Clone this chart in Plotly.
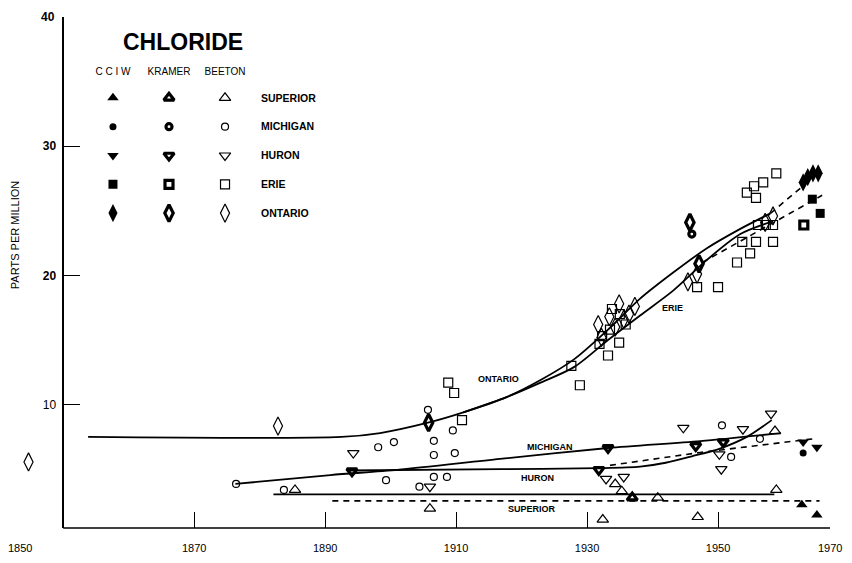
import plotly.graph_objects as go

# ---------------- data (year, parts per million) ----------------
sources = ["CCIW", "KRAMER", "BEETON"]
source_labels = ["C C I W", "KRAMER", "BEETON"]
lakes = ["SUPERIOR", "MICHIGAN", "HURON", "ERIE", "ONTARIO"]

superior_cciw_year = [1962.8, 1965.1]
superior_cciw_ppm = [2.25, 1.45]
superior_kramer_year = [1936.9]
superior_kramer_ppm = [2.8]
superior_beeton_year = [1885.4, 1906.0, 1932.4, 1934.3, 1935.3, 1940.8, 1946.9, 1958.7, 1958.9]
superior_beeton_ppm = [3.4, 1.95, 1.1, 3.85, 3.3, 2.8, 1.3, 7.95, 3.4]

michigan_cciw_year = [1963.0]
michigan_cciw_ppm = [6.25]
michigan_kramer_year = [1946.0]
michigan_kramer_ppm = [23.2]
michigan_beeton_year = [1876.4, 1883.7, 1898.1, 1900.5, 1905.7, 1906.6, 1906.6, 1909.5, 1909.8,
                        1899.3, 1904.4, 1906.6, 1908.6, 1950.6, 1956.4, 1952.0]
michigan_beeton_ppm = [3.86, 3.4, 6.7, 7.1, 9.6, 7.2, 6.1, 8.0, 6.25,
                       4.15, 3.65, 4.4, 4.4, 8.4, 7.35, 5.95]

huron_cciw_year = [1963.0, 1965.1]
huron_cciw_ppm = [7.1, 6.7]
huron_kramer_year = [1894.1, 1931.8, 1933.2, 1946.6, 1950.8]
huron_kramer_ppm = [4.85, 4.95, 6.65, 6.8, 7.1]
huron_beeton_year = [1894.3, 1906.0, 1932.9, 1935.6, 1944.7, 1950.2, 1950.5, 1953.8, 1958.1]
huron_beeton_ppm = [6.25, 3.65, 4.25, 4.4, 8.2, 6.15, 5.0, 8.1, 9.3]

erie_cciw_year = [1964.4, 1965.6]
erie_cciw_ppm = [25.9, 24.8]
erie_kramer_year = [1963.1]
erie_kramer_ppm = [23.9]
erie_beeton_year = [1908.8, 1909.7, 1910.9, 1927.6, 1928.9, 1933.2, 1934.9,
                    1931.9, 1932.3, 1933.5, 1933.8, 1935.0, 1935.9,
                    1946.8, 1950.0, 1952.9, 1953.7, 1954.9, 1955.8, 1958.4,
                    1954.4, 1955.5, 1955.8, 1956.9, 1958.9, 1956.1, 1957.3, 1958.4]
erie_beeton_ppm = [11.7, 10.9, 8.8, 13.0, 11.5, 13.8, 14.8,
                   14.7, 15.3, 15.8, 17.4, 17.0, 16.2,
                   19.1, 19.1, 21.0, 22.6, 21.7, 22.6, 22.6,
                   26.4, 26.9, 26.0, 27.2, 27.9, 23.9, 23.9, 23.9]

ontario_cciw_year = [1963.0, 1963.7, 1964.5, 1965.3]
ontario_cciw_ppm = [27.2, 27.6, 27.9, 27.9]
ontario_kramer_year = [1905.8, 1945.7, 1947.1]
ontario_kramer_ppm = [8.6, 24.1, 20.9]
ontario_beeton_year = [1844.7, 1882.8, 1931.7, 1932.2, 1933.4, 1934.3, 1934.9, 1935.6,
                       1936.4, 1937.3, 1945.4, 1946.8, 1957.2, 1958.4]
ontario_beeton_ppm = [5.56, 8.34, 16.2, 15.2, 16.8, 16.0, 17.8, 16.6,
                      17.0, 17.6, 19.5, 20.1, 24.1, 24.6]

# fitted trend lines
ontario_fit_year = [1853.8, 1892.5, 1898.4, 1905.7, 1911.1, 1917.8, 1922.9, 1928.0,
                    1933.2, 1938.1, 1943.1, 1948.3, 1953.4, 1958.0]
ontario_fit_ppm = [7.5, 7.5, 7.8, 8.6, 9.4, 10.6, 11.9, 13.5, 15.8, 18.2, 20.2, 22.1, 23.6, 24.8]
ontario_dash_year = [1958.0, 1965.5]
ontario_dash_ppm = [24.8, 28.0]

erie_fit_year = [1911.1, 1917.8, 1922.9, 1928.0, 1933.2, 1938.1, 1943.1, 1948.3, 1953.4, 1958.4]
erie_fit_ppm = [9.4, 10.6, 11.7, 12.9, 15.0, 16.9, 18.8, 21.2, 23.2, 24.2]
erie_dash_year = [1947.6, 1965.9]
erie_dash_ppm = [21.0, 26.2]

michigan_fit_year = [1876.3, 1890.8, 1901.0, 1916.7, 1933.2, 1947.3, 1959.6]
michigan_fit_ppm = [3.86, 4.55, 4.95, 5.8, 6.64, 7.18, 7.8]

huron_fit_year = [1893.5, 1916.7, 1931.7, 1938.1, 1942.0, 1946.0, 1950.3, 1954.4, 1958.2]
huron_fit_ppm = [4.9, 5.0, 5.08, 5.2, 5.5, 6.0, 6.6, 7.5, 8.8]
huron_dash_year = [1933.5, 1940.0, 1947.3, 1964.5]
huron_dash_ppm = [5.3, 5.75, 6.3, 7.35]

superior_fit_year = [1882.1, 1958.6]
superior_fit_ppm = [3.05, 3.05]
superior_dash_year = [1891.1, 1965.5]
superior_dash_ppm = [2.55, 2.55]

line_labels = ["ONTARIO", "ERIE", "MICHIGAN", "HURON", "SUPERIOR"]
line_label_year = [1916.4, 1943.1, 1924.4, 1922.5, 1921.6]
line_label_ppm = [12.0, 17.5, 6.7, 4.3, 1.9]

x_ticks = [1870, 1890, 1910, 1930, 1950]
y_ticks = [10, 20, 30]

# axis extents
X_MIN, X_MAX = 1843.4, 1967.1
AXIS_YEAR = 1850
Y_MIN, Y_MAX = 0.45, 40

# ---------------- styles ----------------
FONT = "Liberation Sans, Arial, DejaVu Sans, sans-serif"
symbols = {"SUPERIOR": "triangle-up", "MICHIGAN": "circle", "HURON": "triangle-down",
           "ERIE": "square", "ONTARIO": "diamond-tall"}
sizes = {"SUPERIOR": 10, "MICHIGAN": 7, "HURON": 10, "ERIE": 9, "ONTARIO": 13}


def marker_style(lake, source):
    sym = symbols[lake]
    if source == "CCIW":
        return dict(symbol=sym, size=sizes[lake], color="black", line=dict(width=0, color="black"))
    if source == "KRAMER":
        return dict(symbol=sym + "-open", size=sizes[lake] - 1, color="black", line=dict(width=3.2, color="black"))
    return dict(symbol=sym + "-open", size=sizes[lake], color="black", line=dict(width=1.2, color="black"))


points = {
    ("SUPERIOR", "CCIW"): (superior_cciw_year, superior_cciw_ppm),
    ("SUPERIOR", "KRAMER"): (superior_kramer_year, superior_kramer_ppm),
    ("SUPERIOR", "BEETON"): (superior_beeton_year, superior_beeton_ppm),
    ("MICHIGAN", "CCIW"): (michigan_cciw_year, michigan_cciw_ppm),
    ("MICHIGAN", "KRAMER"): (michigan_kramer_year, michigan_kramer_ppm),
    ("MICHIGAN", "BEETON"): (michigan_beeton_year, michigan_beeton_ppm),
    ("HURON", "CCIW"): (huron_cciw_year, huron_cciw_ppm),
    ("HURON", "KRAMER"): (huron_kramer_year, huron_kramer_ppm),
    ("HURON", "BEETON"): (huron_beeton_year, huron_beeton_ppm),
    ("ERIE", "CCIW"): (erie_cciw_year, erie_cciw_ppm),
    ("ERIE", "KRAMER"): (erie_kramer_year, erie_kramer_ppm),
    ("ERIE", "BEETON"): (erie_beeton_year, erie_beeton_ppm),
    ("ONTARIO", "CCIW"): (ontario_cciw_year, ontario_cciw_ppm),
    ("ONTARIO", "KRAMER"): (ontario_kramer_year, ontario_kramer_ppm),
    ("ONTARIO", "BEETON"): (ontario_beeton_year, ontario_beeton_ppm),
}

fig = go.Figure()

# trend lines
solid_lines = [(ontario_fit_year, ontario_fit_ppm), (erie_fit_year, erie_fit_ppm),
               (michigan_fit_year, michigan_fit_ppm), (huron_fit_year, huron_fit_ppm),
               (superior_fit_year, superior_fit_ppm)]
dashed_lines = [(ontario_dash_year, ontario_dash_ppm), (erie_dash_year, erie_dash_ppm),
                (huron_dash_year, huron_dash_ppm), (superior_dash_year, superior_dash_ppm)]
for xs, ys in solid_lines:
    fig.add_trace(go.Scatter(x=xs, y=ys, mode="lines", line=dict(color="black", width=1.8, shape="spline", smoothing=0.8),
                             showlegend=False, hoverinfo="skip"))
for xs, ys in dashed_lines:
    fig.add_trace(go.Scatter(x=xs, y=ys, mode="lines", line=dict(color="black", width=1.6, dash="6px,5px"),
                             showlegend=False, hoverinfo="skip"))

# data points (Beeton first so filled ones sit on top)
for source in ["BEETON", "KRAMER", "CCIW"]:
    for lake in lakes:
        xs, ys = points[(lake, source)]
        fig.add_trace(go.Scatter(x=xs, y=ys, mode="markers", marker=marker_style(lake, source),
                                 name=f"{lake} {source}", showlegend=False, cliponaxis=False))

# key grid (source columns x lake rows) on helper axes
for si, source in enumerate(sources):
    for li, lake in enumerate(lakes):
        fig.add_trace(go.Scatter(x=[si], y=[li], xaxis="x2", yaxis="y2", mode="markers",
                                 marker=marker_style(lake, source), showlegend=False, hoverinfo="skip"))

annotations = []
for txt, xv, yv in zip(line_labels, line_label_year, line_label_ppm):
    annotations.append(dict(x=xv, y=yv, xref="x", yref="y", text=f"<b>{txt}</b>", showarrow=False,
                            xanchor="center", yanchor="middle",
                            font=dict(family=FONT, size=9, color="black")))

annotations += [
    dict(x=0.2012, y=0.951, xref="paper", yref="paper", text="<b>CHLORIDE</b>", showarrow=False,
         xanchor="center", yanchor="middle", font=dict(family=FONT, size=23, color="black")),
    dict(x=-0.0062, y=0.573, xref="paper", yref="paper", text="PARTS PER MILLION", textangle=-90,
         xanchor="center", yanchor="middle", showarrow=False, font=dict(family=FONT, size=11, color="black")),
    dict(x=AXIS_YEAR, y=Y_MAX, xref="x", yref="y", text="<b>40</b>", showarrow=False, xanchor="right",
         yanchor="middle", xshift=-6, font=dict(family=FONT, size=12, color="black")),
    dict(x=0.0, y=0, xref="paper", yref="paper", text="1850", showarrow=False, xanchor="center",
         yanchor="top", yshift=-12, font=dict(family=FONT, size=11, color="black")),
    dict(x=1.0, y=0, xref="paper", yref="paper", text="1970", showarrow=False, xanchor="center",
         yanchor="top", yshift=-12, font=dict(family=FONT, size=11, color="black")),
]

# x axis baseline runs from the y axis (1850) to the right end
shapes = [dict(type="line", xref="x", yref="paper", x0=AXIS_YEAR, x1=X_MAX, y0=0, y1=0,
               line=dict(color="black", width=1.5))]

fig.update_layout(
    width=844, height=555,
    margin=dict(l=12, r=22, t=9, b=35),
    paper_bgcolor="white", plot_bgcolor="white",
    font=dict(family=FONT, color="black"),
    showlegend=False,
    xaxis=dict(range=[X_MIN, X_MAX], showline=False,
               ticks="inside", ticklen=16, tickwidth=1.2, tickcolor="black",
               tickvals=x_ticks, ticktext=[str(t) for t in x_ticks], ticklabelstandoff=12,
               tickfont=dict(family=FONT, size=11, color="black"),
               showgrid=False, zeroline=False),
    yaxis=dict(range=[Y_MIN, Y_MAX], showline=True, linecolor="black", linewidth=1.5,
               anchor="free", position=(AXIS_YEAR - X_MIN) / (X_MAX - X_MIN),
               ticks="inside", ticklen=16, tickwidth=1.2, tickcolor="black",
               tickvals=y_ticks, ticktext=["10", "<b>20</b>", "<b>30</b>"], ticklabelstandoff=4,
               tickfont=dict(family=FONT, size=12, color="black"),
               showgrid=False, zeroline=False),
    xaxis2=dict(domain=[0.0802, 0.2877], anchor="y2", side="top", range=[-0.5, 2.5],
                tickvals=[0, 1, 2], ticktext=source_labels, ticks="", showline=False,
                ticklabelstandoff=5,
                showgrid=False, zeroline=False, tickfont=dict(family=FONT, size=10, color="black")),
    yaxis2=dict(domain=[0.588, 0.870], anchor="x2", side="right", range=[4.5, -0.5],
                tickvals=list(range(len(lakes))), ticktext=[f"<b>{l}</b>" for l in lakes],
                ticks="", showline=False, showgrid=False, zeroline=False, ticklabelstandoff=7,
                tickfont=dict(family=FONT, size=10.5, color="black")),
    shapes=shapes,
    annotations=annotations,
)

fig.write_html("out.html")
